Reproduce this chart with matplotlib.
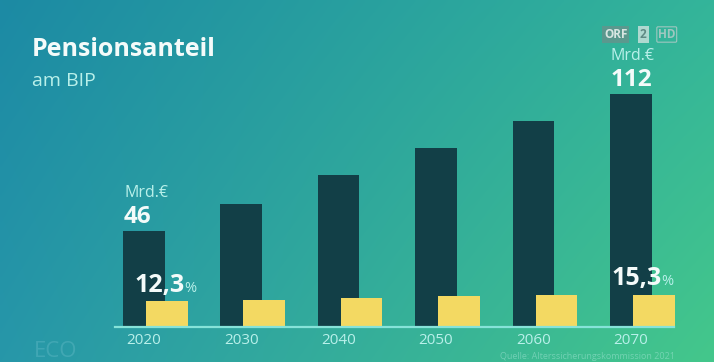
import numpy as np
import matplotlib
matplotlib.use("Agg")
import matplotlib.pyplot as plt
from matplotlib.colors import to_rgb

# data
years = ["2020", "2030", "2040", "2050", "2060", "2070"]
pension_bn = [46, 59, 73, 86, 99, 112]          # Mrd. Euro (dark bars)
share_gdp = [12.3, 12.6, 13.7, 14.5, 15.0, 15.3]  # % of BIP (yellow bars)
labelled = [0, 5]                                 # bars carrying value labels

W, H, DPI = 714, 362, 100
FONT = "Open Sans"
DARK = "#123f47"
YELLOW = "#f3d962"
MINT = "#b9f0ea"
WHITE = "#f4fbfa"

fig = plt.figure(figsize=(W / DPI, H / DPI), dpi=DPI)

# background gradient (bilinear between corner colours)
bg = fig.add_axes([0, 0, 1, 1])
tl, tr = np.array(to_rgb("#1c8aa4")), np.array(to_rgb("#34b59a"))
bl, br = np.array(to_rgb("#2797a9")), np.array(to_rgb("#44c78b"))
u = np.linspace(0, 1, 200)[None, :, None]
v = np.linspace(0, 1, 100)[:, None, None]
img = (1 - v) * ((1 - u) * tl + u * tr) + v * ((1 - u) * bl + u * br)
bg.imshow(img, aspect="auto", extent=[0, 1, 0, 1], interpolation="bilinear")
bg.set_axis_off()

# main axes: baseline sits at y = 327 px
base = (H - 327) / H
ax = fig.add_axes([0, base, 1, 1 - base])
ax.patch.set_alpha(0)
ax2 = ax.twinx()
ax2.patch.set_alpha(0)

step = 97.4  # px between groups
x0 = 143.75  # px centre of first dark bar
bw = 41.5 / step
off = 23 / step
x = np.arange(len(years))

ax.bar(x, pension_bn, width=bw, color=DARK, zorder=2)
ax2.bar(x + off, share_gdp, width=bw, color=YELLOW, zorder=3)

ax.set_xlim(-x0 / step, (W - x0) / step)
ax.set_ylim(0, 112 * 327 / 233)
ax2.set_ylim(0, 15.3 * 327 / 32.3)
for a in (ax, ax2):
    a.set_yticks([])
    for s in a.spines.values():
        s.set_visible(False)
ax.set_xticks(x, years)
ax.tick_params(axis="x", length=0, pad=4, labelsize=11, labelcolor=MINT)
for t in ax.get_xticklabels():
    t.set_fontfamily(FONT)

ax2.axhline(0, xmin=115 / W, xmax=674 / W, color="#86e3d9", lw=1.6, zorder=4,
            clip_on=False)

# value labels
for i in labelled:
    left = x[i] - bw / 2
    ax.annotate("Mrd.€", (left, pension_bn[i]), xytext=(1, 34),
                textcoords="offset pixels", ha="left", va="baseline",
                fontsize=11.5, color=MINT, family=FONT)
    ax.annotate(str(pension_bn[i]), (left, pension_bn[i]), xytext=(1, 8),
                textcoords="offset pixels", ha="left", va="baseline",
                fontsize=17.5, color=WHITE, family=FONT, fontweight="bold")

num = ax2.annotate(f"{share_gdp[0]:.1f}".replace(".", ","),
                   (x[0] + off - bw / 2, share_gdp[0]), xytext=(-12, 9),
                   textcoords="offset pixels", ha="left", va="baseline",
                   fontsize=18, color=WHITE, family=FONT, fontweight="bold",
                   zorder=5)
ax2.annotate("%", (1, 0), xycoords=num, xytext=(0, 2),
             textcoords="offset pixels", ha="left", va="bottom",
             fontsize=10.5, color=MINT, family=FONT, zorder=5)

pct = ax2.annotate("%", (x[5] + off + bw / 2, share_gdp[5]), xytext=(-1, 10),
                   textcoords="offset pixels", ha="right", va="baseline",
                   fontsize=10.5, color=MINT, family=FONT, zorder=5)
ax2.annotate(f"{share_gdp[5]:.1f}".replace(".", ","), (0, 0), xycoords=pct,
             xytext=(0, -2), textcoords="offset pixels", ha="right",
             va="bottom", fontsize=18, color=WHITE, family=FONT,
             fontweight="bold", zorder=5)

# titles
fig.text(32 / W, 1 - 56 / H, "Pensionsanteil", ha="left", va="baseline",
         fontsize=18, color=WHITE, family=FONT, fontweight="bold")
fig.text(32 / W, 1 - 86 / H, "am BIP", ha="left", va="baseline",
         fontsize=14, color=MINT, family=FONT)

# broadcaster logo
fig.text(604 / W, 1 - 38 / H, "ORF", ha="left", va="baseline", fontsize=8.5,
         color="#d9e6e2", family=FONT, fontweight="bold",
         bbox=dict(boxstyle="square,pad=0.15", fc="#6d8f8a", ec="none", alpha=0.7))
fig.text(640 / W, 1 - 38 / H, "2", ha="left", va="baseline", fontsize=8.5,
         color="#5f8a84", family=FONT, fontweight="bold",
         bbox=dict(boxstyle="square,pad=0.15", fc="#cfe3df", ec="none", alpha=0.8))
fig.text(658 / W, 1 - 38 / H, "HD", ha="left", va="baseline", fontsize=8.5,
         color="#9fc7c0", family=FONT, fontweight="bold",
         bbox=dict(boxstyle="round,pad=0.1", fc="none", ec="#9fc7c0", lw=0.8))

# faint programme watermark and source line
fig.text(34 / W, 0, "ECO", ha="left", va="bottom", fontsize=16,
         color="#5fb8c4", alpha=0.45, family=FONT)
fig.text(500 / W, 1 / H, "Quelle: Alterssicherungskommission 2021", ha="left",
         va="bottom", fontsize=6.5, color="#a6e6d6", alpha=0.5, family=FONT)

fig.savefig("out.png", dpi=DPI)
